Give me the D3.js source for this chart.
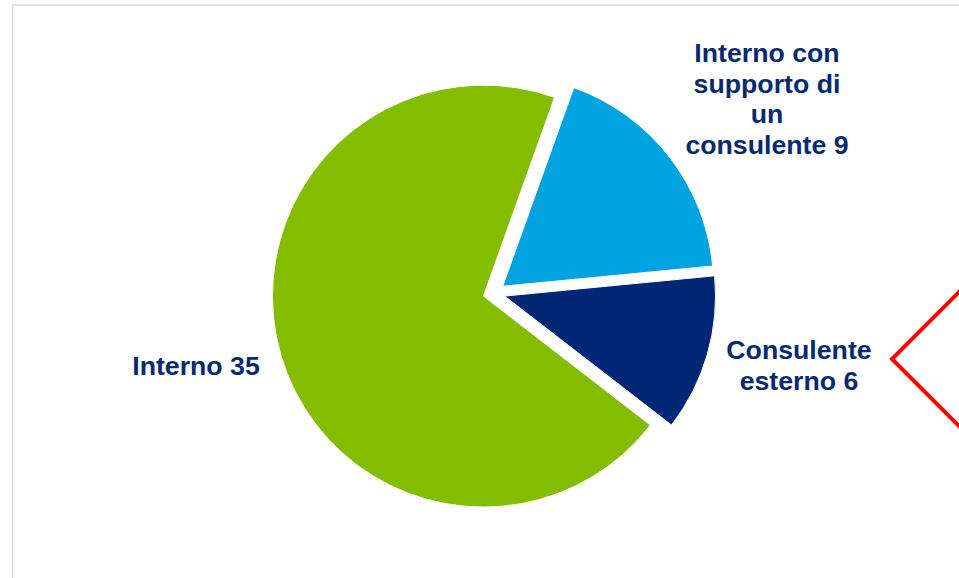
<!DOCTYPE html>
<html>
<head>
<meta charset="utf-8">
<script src="https://cdn.jsdelivr.net/npm/d3@7"></script>
<style>
  html, body { margin: 0; padding: 0; background: #fff; }
  svg { display: block; }
</style>
</head>
<body>
<div id="chart"></div>
<script>
// data
const categories = ["Interno", "Interno con supporto di un consulente", "Consulente esterno"];
const values = [35, 9, 6];
const labelLines = [
  ["Interno 35"],
  ["Interno con", "supporto di", "un", "consulente 9"],
  ["Consulente", "esterno 6"]
];
const colors = ["#84bc00", "#00a3e0", "#002776"];

const w = 959;
const h = 578;

// pie geometry
const cx = 494;
const cy = 293;
const radius = 211;
const explode = 11;
const firstAngle = 127.7 * Math.PI / 180;

// where Excel put the labels (center x, first baseline)
const labelPos = [[196, 375], [767, 62], [799, 359]];
const lineHeight = 30.5;

const svg = d3.select("#chart")
  .append("svg")
  .attr("width", w)
  .attr("height", h);

// chart area frame
svg.append("rect")
  .attr("x", 12.5)
  .attr("y", 5)
  .attr("width", 1000)
  .attr("height", 1000)
  .style("fill", "none")
  .style("stroke", "#d9d9d9")
  .style("stroke-width", 1.5);

const pie = d3.pie()
  .sort(null)
  .startAngle(firstAngle)
  .endAngle(firstAngle + 2 * Math.PI);

const arcs = pie(values);

const arc = d3.arc()
  .innerRadius(0)
  .outerRadius(radius);

const g = svg.append("g")
  .attr("transform", `translate(${cx},${cy})`);

g.selectAll("path")
  .data(arcs)
  .enter()
  .append("path")
  .attr("d", arc)
  .attr("transform", (d) => {
    const mid = (d.startAngle + d.endAngle) / 2;
    return `translate(${explode * Math.sin(mid)},${-explode * Math.cos(mid)})`;
  })
  .style("fill", (d, i) => colors[i])
  .style("stroke", "#fff")
  .style("stroke-width", 1);

// labels
const labels = svg.selectAll("text.lbl")
  .data(labelLines)
  .enter()
  .append("text")
  .attr("class", "lbl")
  .attr("text-anchor", "middle")
  .style("font-family", "'Liberation Sans', Arial, sans-serif")
  .style("font-weight", "bold")
  .style("font-size", "26.7px")
  .style("fill", "#062a72");

labels.selectAll("tspan")
  .data((d, i) => d.map((t) => ({ t, i })))
  .enter()
  .append("tspan")
  .attr("x", (d) => labelPos[d.i][0])
  .attr("y", (d, j) => labelPos[d.i][1] + j * lineHeight)
  .text((d) => d.t);

// red callout shape at the right edge
svg.append("polyline")
  .attr("points", "963,288 892,359 963,430")
  .style("fill", "none")
  .style("stroke", "#ff0000")
  .style("stroke-width", 4);
</script>
</body>
</html>
